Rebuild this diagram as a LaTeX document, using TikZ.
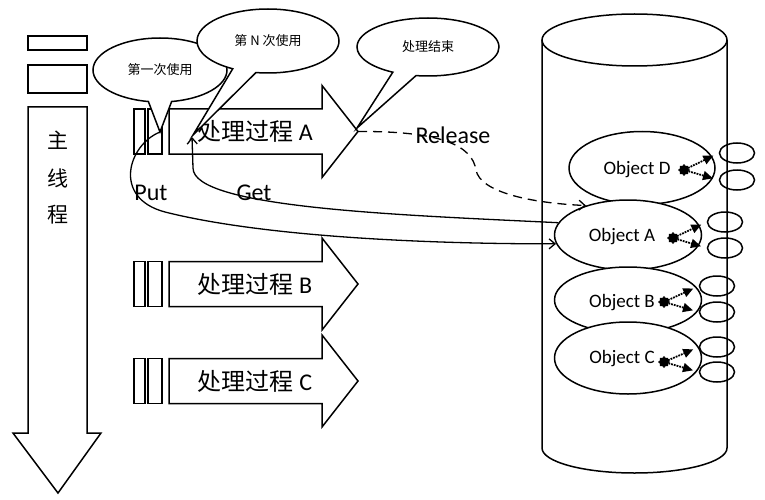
\documentclass[tikz,border=0pt]{standalone}
\usepackage{fontspec}
\setmainfont{Carlito}
\newfontfamily\cjk{Noto Sans CJK SC}
\usetikzlibrary{shapes.geometric,shapes.callouts,arrows.meta,calc}
\begin{document}
\begin{tikzpicture}[x=1pt,y=-1pt,
  line width=1.5pt,
  procbox/.style={draw, line width=1.5pt, fill=white},
  bubble/.style={ellipse callout, draw, fill=white, line width=1.5pt, inner sep=0pt,
    callout pointer arc=20, font=\cjk\fontsize{13}{15}\selectfont},
  objell/.style={ellipse, draw, fill=white, line width=1.5pt, inner sep=0pt, minimum width=147pt},
  slot/.style={ellipse, draw, line width=1.5pt, inner sep=0pt, minimum width=35pt, minimum height=20pt},
  blob/.style={star, star points=8, star point ratio=1.35, fill=black, draw, line width=0.5pt, inner sep=0pt, minimum size=11pt},
  dotarrow/.style={densely dotted, line width=1.8pt, -{Triangle[length=10pt,width=9pt]}, shorten >=6pt},
  flow/.style={-{Straight Barb[length=6pt,width=10pt]}, line width=1.3pt},
  lbl/.style={font=\fontsize{24}{28}\selectfont, inner sep=0pt},
  objlbl/.style={font=\fontsize{19}{22}\selectfont, inner sep=0pt},
  proclbl/.style={font=\fontsize{24}{28}\selectfont, inner sep=0pt},
  mainlbl/.style={font=\cjk\fontsize{21}{24}\selectfont, inner sep=0pt}
]
\useasboundingbox (0,0) rectangle (765,500);

% main thread
\draw (28,36) rectangle (87,50);
\draw (28,65) rectangle (87,93);
\draw[procbox] (28,107) -- (87,107) -- (87,433) -- (101,433) -- (58,493) -- (13,433) -- (28,433) -- cycle;
\node[mainlbl] (m1) at (58,140) {主};
\node[mainlbl] (m2) at (58,178) {线};
\node[mainlbl] (m3) at (58,215) {程};

% process arrows
\foreach \c/\t in {131.5/A,284/B,381/C}{
  \draw (134,\c-22.5) rectangle (145,\c+22.5);
  \draw (148,\c-22.5) rectangle (162,\c+22.5);
  \draw[procbox] (169,\c-22.5) -- (322,\c-22.5) -- (322,\c-46) -- (358,\c)
     -- (322,\c+46) -- (322,\c+22.5) -- (169,\c+22.5) -- cycle;
  \node[proclbl] (p\t) at (255,\c) {{\cjk 处理过程} \t};
}
\coordinate (tipA) at (358,131.5);

% callouts
\coordinate (t1) at (160,132);
\coordinate (t2) at (193,135);
\coordinate (t3) at (357,128);
\node[bubble, minimum width=134pt, minimum height=64pt, callout absolute pointer={(t1)}] (b1) at (160,70) {第一次使用};
\node[bubble, minimum width=142pt, minimum height=64pt, callout absolute pointer={(t2)}] (b2) at (268,41) {第 N 次使用};
\node[bubble, minimum width=142pt, minimum height=58pt, callout absolute pointer={(t3)}] (b3) at (428,47) {处理结束};

% cylinder
\draw (542,40) -- (542,448) arc[start angle=180, end angle=360, x radius=92.5pt, y radius=25pt] -- (727,40);
\draw (634.5,40) ellipse [x radius=92.5pt, y radius=26pt];

% objects
\node[objell, minimum width=146pt, minimum height=73pt] (oD) at (642,168) {};
\node[objell, minimum height=70pt] (oA) at (628,235) {};
\node[objell, minimum height=66pt] (oB) at (628,300) {};
\node[objell, minimum height=72pt] (oC) at (628,358) {};
\node[objlbl] (lD) at (637,170) {Object D};
\node[objlbl] (lA) at (622,237) {Object A};
\node[objlbl] (lB) at (622,303) {Object B};
\node[objlbl] (lC) at (622,359) {Object C};

\node[slot] (sD1) at (737,153) {};
\node[slot] (sD2) at (737,180) {};
\node[slot] (sA1) at (725,222) {};
\node[slot] (sA2) at (725,248) {};
\node[slot] (sB1) at (717,286) {};
\node[slot] (sB2) at (717,312) {};
\node[slot] (sC1) at (717,347) {};
\node[slot] (sC2) at (717,372) {};

\node[blob] (dD) at (684,170) {};
\node[blob] (dA) at (673,238) {};
\node[blob] (dB) at (664,302) {};
\node[blob] (dC) at (664,362) {};

\foreach \o in {D,A,B,C}{
  \draw[dotarrow] (d\o) -- (s\o1.west);
  \draw[dotarrow] (d\o) -- (s\o2.west);
}

% connectors
\draw[flow] (t1) .. controls (128,145) and (112,198) .. (165,212)
   .. controls (260,236) and (420,244) .. (oA.187);
\coordinate (getend) at (192,137);
\draw[flow] (oA.170) .. controls (400,215) and (193,208) .. (193,168) -- (getend);
\draw[flow, dash pattern=on 9pt off 6pt] (tipA) .. controls (440,131) and (472,145) .. (476,170)
   .. controls (480,192) and (530,203) .. (oA.145);

\node[lbl] (rel) at (453,135) {Release};
\node[lbl] (put) at (151,193) {Put};
\node[lbl] (get) at (254,193) {Get};
\end{tikzpicture}
\end{document}
